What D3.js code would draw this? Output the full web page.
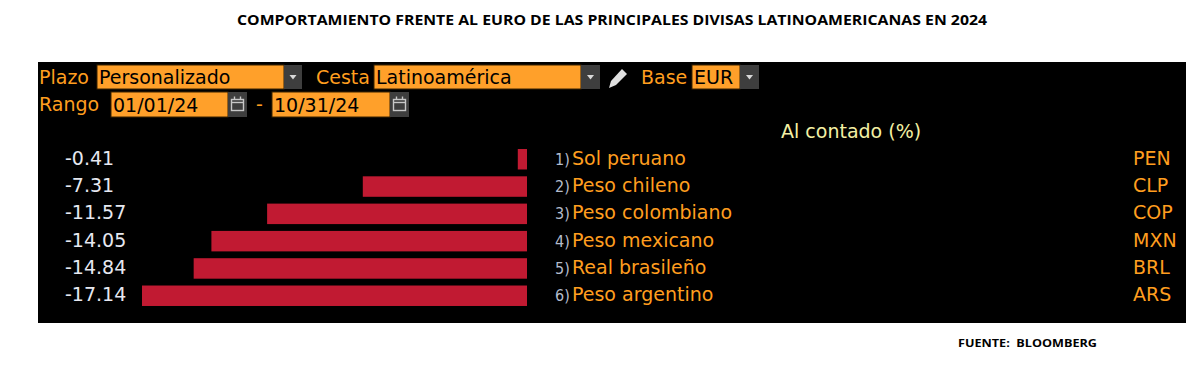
<!DOCTYPE html>
<html>
<head>
<meta charset="utf-8">
<script src="https://cdn.jsdelivr.net/npm/d3@7"></script>
<style>
  body { margin: 0; background: #fff; }
  svg text { font-family: "DejaVu Sans", sans-serif; }
</style>
</head>
<body>
<svg id="chart" width="1201" height="375"></svg>
<script>
const codes = ["PEN", "CLP", "COP", "MXN", "BRL", "ARS"];
const names = ["Sol peruano", "Peso chileno", "Peso colombiano", "Peso mexicano", "Real brasileño", "Peso argentino"];
const values = [-0.41, -7.31, -11.57, -14.05, -14.84, -17.14];

const svg = d3.select("#chart");
const orange = "#ff9e1f";
const boxFill = "#ffa02a";
const fs = "19px";

//Title + source
svg.append("text")
  .attr("x", 612).attr("y", 25)
  .attr("text-anchor", "middle")
  .attr("textLength", 750).attr("lengthAdjust", "spacingAndGlyphs")
  .style("font-family", "'Open Sans', sans-serif")
  .style("font-weight", "bold").style("font-size", "14px")
  .text("COMPORTAMIENTO FRENTE AL EURO DE LAS PRINCIPALES DIVISAS LATINOAMERICANAS EN 2024");

svg.append("text")
  .attr("x", 958).attr("y", 347)
  .attr("textLength", 139).attr("lengthAdjust", "spacingAndGlyphs")
  .style("font-family", "'Open Sans', sans-serif")
  .style("white-space", "pre")
  .style("font-weight", "bold").style("font-size", "11px")
  .text("FUENTE:  BLOOMBERG");

//Terminal panel
svg.append("rect").attr("x", 38).attr("y", 62).attr("width", 1148).attr("height", 261).attr("fill", "#000");

//Header controls
function label(x, y, t) {
  svg.append("text").attr("x", x).attr("y", y).attr("fill", orange).style("font-size", fs).text(t);
}
function field(x, y, w, h, t) {
  svg.append("rect").attr("x", x).attr("y", y).attr("width", w).attr("height", h)
    .attr("fill", boxFill).attr("stroke", "#3a2200").attr("stroke-width", 1);
  svg.append("text").attr("x", x + 2).attr("y", y + h - 5).attr("fill", "#000").style("font-size", fs).text(t);
}
function dropBtn(x, y, w, h) {
  svg.append("rect").attr("x", x).attr("y", y).attr("width", w).attr("height", h).attr("fill", "#3e3e3e");
  const cx = x + w / 2, cy = y + h / 2;
  svg.append("path").attr("d", `M${cx - 3.5},${cy - 2}L${cx + 3.5},${cy - 2}L${cx},${cy + 2.5}Z`).attr("fill", "#d8d8d8");
}
function calBtn(x, y, w, h) {
  svg.append("rect").attr("x", x).attr("y", y).attr("width", w).attr("height", h).attr("fill", "#3e3e3e");
  const cx = x + w / 2, cy = y + h / 2;
  svg.append("rect").attr("x", cx - 6).attr("y", cy - 5).attr("width", 12).attr("height", 11)
    .attr("fill", "none").attr("stroke", "#c8c8c8").attr("stroke-width", 1.4);
  svg.append("line").attr("x1", cx - 6).attr("x2", cx + 6).attr("y1", cy - 2).attr("y2", cy - 2).attr("stroke", "#c8c8c8").attr("stroke-width", 1.4);
  svg.append("line").attr("x1", cx - 3).attr("x2", cx - 3).attr("y1", cy - 8).attr("y2", cy - 5).attr("stroke", "#c8c8c8").attr("stroke-width", 1.4);
  svg.append("line").attr("x1", cx + 3).attr("x2", cx + 3).attr("y1", cy - 8).attr("y2", cy - 5).attr("stroke", "#c8c8c8").attr("stroke-width", 1.4);
}

label(39, 84, "Plazo");
field(97, 65, 187, 24, "Personalizado");
dropBtn(284, 65, 18, 24);
label(316, 84, "Cesta");
field(374, 65, 207, 24, "Latinoamérica");
dropBtn(581, 65, 19, 24);
//pencil
svg.append("path")
  .attr("d", "M609,88L611,81L622,69L627,74L616,85Z")
  .attr("fill", "#e0e0e0");
label(641, 84, "Base");
field(692, 65, 48, 24, "EUR");
dropBtn(740, 65, 19, 24);

label(39, 111, "Rango");
field(111, 92, 117, 25, "01/01/24");
calBtn(228, 92, 19, 25);
label(256, 111, "-");
field(272, 92, 118, 25, "10/31/24");
calBtn(390, 92, 19, 25);

svg.append("text").attr("x", 781).attr("y", 138).attr("fill", "#f4f0a4").style("font-size", fs).text("Al contado (%)");

//Bars
const y = d3.scaleBand().domain(codes).range([145.6, 309.4]).paddingInner(0.25).paddingOuter(0.125);
const x = d3.scaleLinear().domain([-17.14, 0]).range([142, 527]);

const rows = codes.map((c, i) => ({ code: c, name: names[i], value: values[i], idx: i + 1 }));

svg.append("g").selectAll("rect").data(rows).join("rect")
  .attr("x", d => x(d.value))
  .attr("y", d => y(d.code))
  .attr("width", d => x(0) - x(d.value))
  .attr("height", y.bandwidth())
  .attr("fill", "#c11a32");

const base = d => y(d.code) + y.bandwidth() / 2 + 5.5;

svg.append("g").selectAll("text").data(rows).join("text")
  .attr("x", 65).attr("y", base)
  .attr("fill", "#e6e8f0").style("font-size", fs)
  .text(d => d.value.toFixed(2));

svg.append("g").selectAll("text").data(rows).join("text")
  .attr("x", 555).attr("y", base)
  .attr("fill", "#b4bccc")
  .style("font-family", "'Liberation Sans Narrow', 'DejaVu Sans Condensed', sans-serif")
  .style("font-size", "16px")
  .text(d => d.idx + ")");

svg.append("g").selectAll("text").data(rows).join("text")
  .attr("x", 572).attr("y", base)
  .attr("fill", orange).style("font-size", fs)
  .text(d => d.name);

svg.append("g").selectAll("text").data(rows).join("text")
  .attr("x", 1133).attr("y", base)
  .attr("fill", orange).style("font-size", fs)
  .text(d => d.code);
</script>
</body>
</html>
